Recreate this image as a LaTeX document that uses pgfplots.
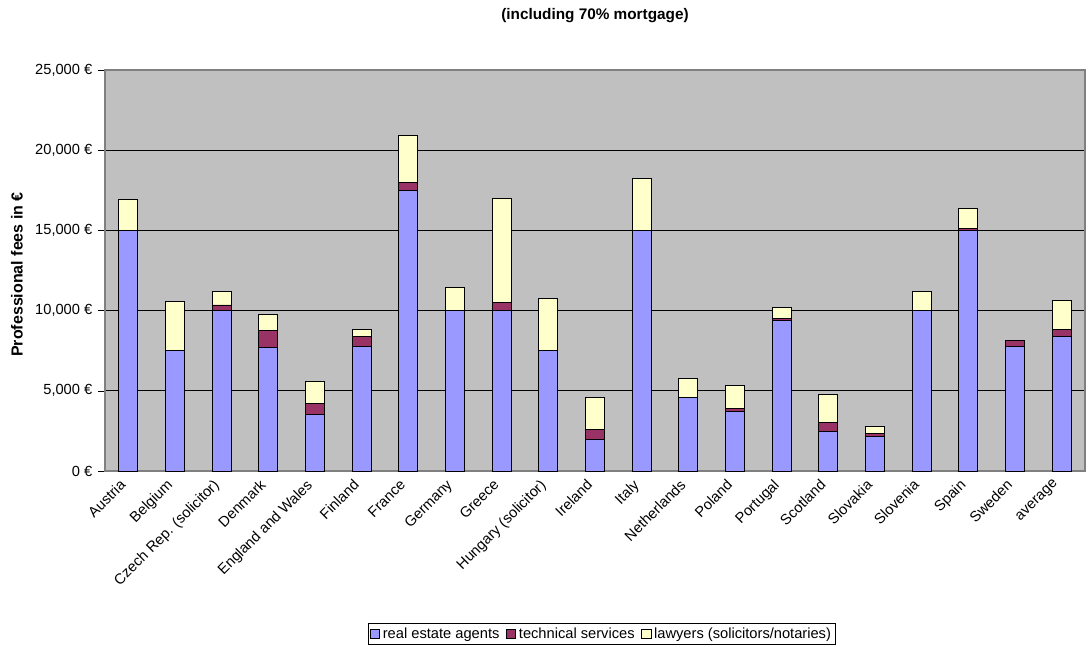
\documentclass[border=0pt]{standalone}
\usepackage{fontspec}
\setmainfont{Liberation Sans}
\usepackage{pgfplots}
\pgfplotsset{compat=1.18}
\usepackage{pgfplotstable}

\definecolor{agents}{HTML}{9999FF}
\definecolor{technical}{HTML}{993366}
\definecolor{lawyers}{HTML}{FFFFCC}
\definecolor{plotbg}{HTML}{C0C0C0}

% x  agents  technical  lawyers (stacked increments)
\pgfplotstableread{
x agents technical lawyers
0  15000 0    1900
1  7500  0    3070
2  10000 350  850
3  7700  1050 1030
4  3550  670  1380
5  7770  630  430
6  17500 500  2940
7  10000 0    1450
8  10000 500  6470
9  7500  0    3240
10 1970  630  2010
11 15000 0    3240
12 4590  0    1160
13 3740  160  1420
14 9370  160  650
15 2470  580  1750
16 2140  210  430
17 10000 0    1200
18 15000 120  1230
19 7770  390  0
20 8390  460  1800
}\fees

\begin{document}
\begin{tikzpicture}
\begin{axis}[
    scale only axis,
    width=735pt, height=300.75pt,
    ybar stacked,
    bar width=0.41,
    xmin=-0.5, xmax=20.5,
    ymin=0, ymax=25000,
    ytick={0,5000,...,25000},
    scaled y ticks=false,
    yticklabel={\pgfmathprintnumber{\tick}~€},
    /pgf/number format/.cd, fixed, 1000 sep={,}, assume math mode=true,
    /pgfplots/.cd,
    xtick=data,
    xticklabels={Austria, Belgium, Czech Rep. (solicitor), Denmark, England and Wales,
      Finland, France, Germany, Greece, Hungary (solicitor), Ireland, Italy,
      Netherlands, Poland, Portugal, Scotland, Slovakia, Slovenia, Spain, Sweden, average},
    x tick style={draw=none},
    minor xtick={0.5,1.5,...,19.5},
    minor x tick style={black},
    minor tick length=4pt,
    major tick length=5pt,
    tick align=outside,
    xtick pos=bottom, ytick pos=left,
    y tick style={black},
    ymajorgrids,
    major grid style={black, line width=0.6pt},
    axis background/.style={fill=plotbg},
    axis line style={gray, line width=0.8pt},
    tick label style={font=\fontsize{11}{13}\selectfont},
    xticklabel style={xshift=-7pt, yshift=1pt, rotate=45, anchor=north east, inner sep=1pt},
    yticklabel style={xshift=-1pt},
    title={(including 70\% mortgage)},
    title style={at={(0.5,1)}, anchor=center, yshift=35pt, font=\fontsize{11.5}{13}\selectfont\bfseries},
    ylabel={Professional fees in €},
    ylabel style={at={(axis description cs:-0.0898,0.49)}, anchor=center, font=\fontsize{12}{14}\selectfont\bfseries},
    legend columns=-1,
    legend style={at={(axis description cs:0.507,-0.379)}, anchor=north,
      draw=black, line width=0.6pt, font=\fontsize{11}{13}\selectfont,
      inner sep=1pt, /tikz/every even column/.append style={column sep=3pt}},
    legend image code/.code={\draw[#1, line width=0.6pt] (0pt,-3.5pt) rectangle (7pt,3.5pt);},
    every axis plot/.append style={draw=black, line width=0.7pt},
  ]
  \addplot[fill=agents] table[x=x, y=agents] {\fees};
  \addplot[fill=technical] table[x=x, y=technical] {\fees};
  \addplot[fill=lawyers] table[x=x, y=lawyers] {\fees};
  \legend{real estate agents, technical services, lawyers (solicitors/notaries)}
\end{axis}
\pgfresetboundingbox
\path (-78.75pt,-131.25pt) rectangle (739.5pt,353.25pt);
\end{tikzpicture}
\end{document}
